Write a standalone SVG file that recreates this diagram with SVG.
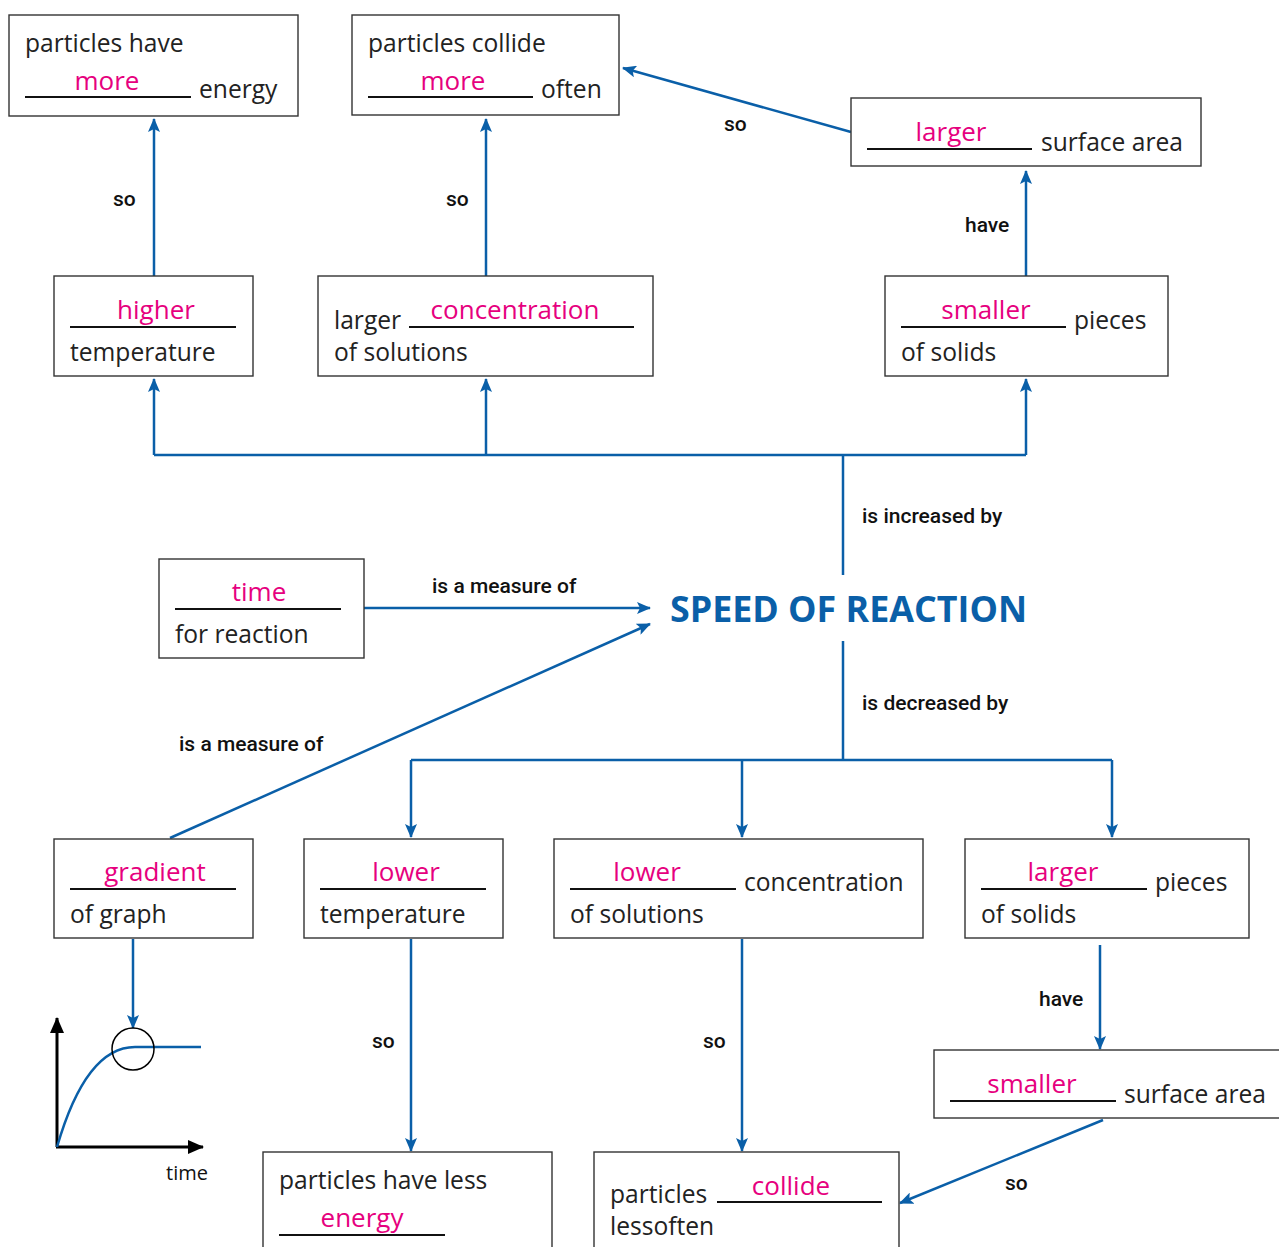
<svg xmlns="http://www.w3.org/2000/svg" width="1279" height="1247" viewBox="0 0 1279 1247">
<defs>
<marker id="ah" viewBox="0 0 14 12" refX="13" refY="6" markerWidth="14" markerHeight="12" markerUnits="userSpaceOnUse" orient="auto">
<path d="M0,0 L14,6 L0,12 L3,6 Z" fill="#0a5fa8"/>
</marker>
<marker id="bk" viewBox="0 0 16 14" refX="15" refY="7" markerWidth="16" markerHeight="14" markerUnits="userSpaceOnUse" orient="auto">
<path d="M0,0 L16,7 L0,14 Z" fill="#000"/>
</marker>
<style>
.box{fill:#fff;stroke:#333;stroke-width:1.4}
.t{font-family:"Open Sans","Liberation Sans",sans-serif;font-size:24.6px;fill:#222}
.p{font-family:"Open Sans","Liberation Sans",sans-serif;font-size:26px;font-weight:500;fill:#e6007e;text-anchor:middle}
.u{stroke:#111;stroke-width:2}
.c{fill:none;stroke:#0a5fa8;stroke-width:2.5}
.a{marker-end:url(#ah)}
.l{font-family:Roboto,"Liberation Sans",sans-serif;font-size:21px;font-weight:500;fill:#111}
</style>
</defs>

<g id="connectors">
<line class="c a" x1="154" y1="276" x2="154" y2="119"/>
<line class="c a" x1="486" y1="276" x2="486" y2="119"/>
<line class="c a" x1="1026" y1="276" x2="1026" y2="171"/>
<line class="c a" x1="851" y1="132" x2="623" y2="68"/>
<polyline class="c" points="843,575 843,455"/>
<polyline class="c" points="154,455 1026,455"/>
<line class="c a" x1="154" y1="455" x2="154" y2="379"/>
<line class="c a" x1="486" y1="455" x2="486" y2="379"/>
<line class="c a" x1="1026" y1="455" x2="1026" y2="379"/>
<line class="c a" x1="364" y1="608" x2="650" y2="608"/>
<line class="c a" x1="170" y1="838" x2="650" y2="624"/>
<polyline class="c" points="843,641 843,760"/>
<polyline class="c" points="411,760 1112,760"/>
<line class="c a" x1="411" y1="760" x2="411" y2="837"/>
<line class="c a" x1="742" y1="760" x2="742" y2="837"/>
<line class="c a" x1="1112" y1="760" x2="1112" y2="837"/>
<line class="c a" x1="133" y1="939" x2="133" y2="1028"/>
<line class="c a" x1="411" y1="939" x2="411" y2="1151"/>
<line class="c a" x1="742" y1="939" x2="742" y2="1151"/>
<line class="c a" x1="1100" y1="945" x2="1100" y2="1049"/>
<line class="c a" x1="1103" y1="1120" x2="900" y2="1203"/>
<text class="l" x="113" y="206">so</text>
<text class="l" x="446" y="206">so</text>
<text class="l" x="965" y="232">have</text>
<text class="l" x="724" y="131">so</text>
<text class="l" x="862" y="523">is increased by</text>
<text class="l" x="432" y="593">is a measure of</text>
<text class="l" x="179" y="751">is a measure of</text>
<text class="l" x="862" y="710">is decreased by</text>
<text class="l" x="372" y="1048">so</text>
<text class="l" x="703" y="1048">so</text>
<text class="l" x="1039" y="1006">have</text>
<text class="l" x="1005" y="1190">so</text>
</g>

<g id="n-more-energy">
<rect class="box" x="9" y="15" width="289" height="101"/>
<text class="t" x="25" y="52">particles have</text>
<line class="u" x1="25" y1="97" x2="191" y2="97"/>
<text class="p" x="107" y="90">more</text>
<text class="t" x="199" y="98">energy</text>
</g>

<g id="n-collide-more">
<rect class="box" x="352" y="15" width="267" height="100"/>
<text class="t" x="368" y="52">particles collide</text>
<line class="u" x1="368" y1="97" x2="533" y2="97"/>
<text class="p" x="453" y="90">more</text>
<text class="t" x="541" y="98">often</text>
</g>

<g id="n-larger-surface">
<rect class="box" x="851" y="98" width="350" height="68"/>
<line class="u" x1="867" y1="149" x2="1032" y2="149"/>
<text class="p" x="951" y="141">larger</text>
<text class="t" x="1041" y="151">surface area</text>
</g>

<g id="n-higher-temp">
<rect class="box" x="54" y="276" width="199" height="100"/>
<line class="u" x1="70" y1="327" x2="236" y2="327"/>
<text class="p" x="156" y="319">higher</text>
<text class="t" x="70" y="361">temperature</text>
</g>

<g id="n-larger-conc">
<rect class="box" x="318" y="276" width="335" height="100"/>
<text class="t" x="334" y="329">larger</text>
<line class="u" x1="409" y1="327" x2="634" y2="327"/>
<text class="p" x="515" y="319">concentration</text>
<text class="t" x="334" y="361">of solutions</text>
</g>

<g id="n-smaller-pieces">
<rect class="box" x="885" y="276" width="283" height="100"/>
<line class="u" x1="901" y1="327" x2="1066" y2="327"/>
<text class="p" x="986" y="319">smaller</text>
<text class="t" x="1074" y="329">pieces</text>
<text class="t" x="901" y="361">of solids</text>
</g>

<g id="n-time">
<rect class="box" x="159" y="559" width="205" height="99"/>
<line class="u" x1="175" y1="609" x2="341" y2="609"/>
<text class="p" x="259" y="601">time</text>
<text class="t" x="175" y="643">for reaction</text>
</g>

<g id="n-speed">
<text x="670" y="622" textLength="357" lengthAdjust="spacingAndGlyphs" style="font-family:'Open Sans','Liberation Sans',sans-serif;font-size:35px;font-weight:bold;fill:#0a5fa8">SPEED OF REACTION</text>
</g>

<g id="n-gradient">
<rect class="box" x="54" y="839" width="199" height="99"/>
<line class="u" x1="70" y1="889" x2="236" y2="889"/>
<text class="p" x="155" y="881">gradient</text>
<text class="t" x="70" y="923">of graph</text>
</g>

<g id="n-lower-temp">
<rect class="box" x="304" y="839" width="199" height="99"/>
<line class="u" x1="320" y1="889" x2="486" y2="889"/>
<text class="p" x="406" y="881">lower</text>
<text class="t" x="320" y="923">temperature</text>
</g>

<g id="n-lower-conc">
<rect class="box" x="554" y="839" width="369" height="99"/>
<line class="u" x1="570" y1="889" x2="736" y2="889"/>
<text class="p" x="647" y="881">lower</text>
<text class="t" x="744" y="891">concentration</text>
<text class="t" x="570" y="923">of solutions</text>
</g>

<g id="n-larger-pieces">
<rect class="box" x="965" y="839" width="284" height="99"/>
<line class="u" x1="981" y1="889" x2="1147" y2="889"/>
<text class="p" x="1063" y="881">larger</text>
<text class="t" x="1155" y="891">pieces</text>
<text class="t" x="981" y="923">of solids</text>
</g>

<g id="n-smaller-surface">
<rect class="box" x="934" y="1050" width="360" height="68"/>
<line class="u" x1="950" y1="1101" x2="1116" y2="1101"/>
<text class="p" x="1032" y="1093">smaller</text>
<text class="t" x="1124" y="1103">surface area</text>
</g>

<g id="n-less-energy">
<rect class="box" x="263" y="1152" width="289" height="110"/>
<text class="t" x="279" y="1189">particles have less</text>
<line class="u" x1="279" y1="1235" x2="445" y2="1235"/>
<text class="p" x="362" y="1227">energy</text>
</g>

<g id="n-collide-less">
<rect class="box" x="594" y="1152" width="305" height="110"/>
<text class="t" x="610" y="1203">particles</text>
<line class="u" x1="717" y1="1202" x2="882" y2="1202"/>
<text class="p" x="791" y="1195">collide</text>
<text class="t" x="610" y="1235">lessoften</text>
</g>

<g id="graph">
<line x1="57" y1="1147" x2="57" y2="1018" stroke="#000" stroke-width="3" marker-end="url(#bk)"/>
<line x1="56" y1="1147" x2="203" y2="1147" stroke="#000" stroke-width="3" marker-end="url(#bk)"/>
<path d="M57,1147 C75,1085 100,1047 135,1047 L201,1047" fill="none" stroke="#0a5fa8" stroke-width="2.5"/>
<circle cx="133" cy="1049" r="21" fill="none" stroke="#000" stroke-width="1.5"/>
<text x="166" y="1180" style="font-family:'Open Sans','Liberation Sans',sans-serif;font-size:20px;fill:#111">time</text>
</g>
</svg>
